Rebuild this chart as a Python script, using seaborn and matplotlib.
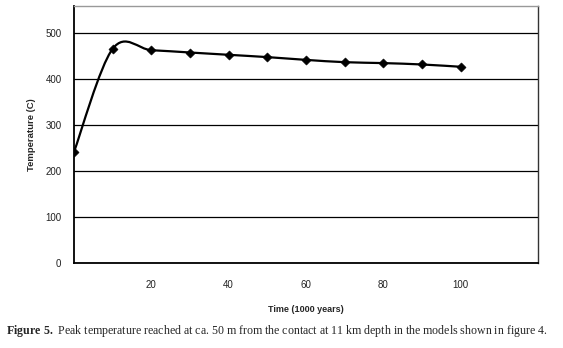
import numpy as np
import matplotlib
matplotlib.use("Agg")
import matplotlib.pyplot as plt
from matplotlib.path import Path
from matplotlib.patches import PathPatch
import seaborn as sns
import pandas as pd

# data
time_kyr = [0, 10, 20, 30, 40, 50, 60, 70, 80, 90, 100]
temp_c = [241, 465, 462, 457, 452, 447, 441, 436, 434, 431, 426]
y_ticks = [0, 100, 200, 300, 400, 500]
x_ticks = [20, 40, 60, 80, 100, 120]
x_labels = ["20", "40", "60", "80", "100", ""]

df = pd.DataFrame({"time": time_kyr, "temp": temp_c})

sns.set_style("white")
plt.rcParams["font.family"] = ["Liberation Sans", "DejaVu Sans"]
plt.rcParams["mathtext.fontset"] = "custom"
plt.rcParams["mathtext.rm"] = "Liberation Serif"
plt.rcParams["mathtext.bf"] = "Liberation Serif:bold"

fig = plt.figure(figsize=(5.63, 3.48), dpi=100)
ax = fig.add_axes([0.1314, 0.2443, 0.8242, 0.7385])

# Excel-style smoothed line: cubic bezier segments through the points
pts = np.column_stack([time_kyr, temp_c]).astype(float)
verts = [pts[0]]
codes = [Path.MOVETO]
n = len(pts)
for i in range(n - 1):
    p_prev = pts[i - 1] if i > 0 else pts[i]
    p_next2 = pts[i + 2] if i + 2 < n else pts[i + 1]
    c1 = pts[i] + (pts[i + 1] - p_prev) / 6
    c2 = pts[i + 1] - (p_next2 - pts[i]) / 6
    verts += [c1, c2, pts[i + 1]]
    codes += [Path.CURVE4] * 3
ax.add_patch(PathPatch(Path(verts, codes), facecolor="none",
                       edgecolor="black", lw=1.6, zorder=3))

sns.scatterplot(data=df, x="time", y="temp", marker="D", s=22,
                color="black", edgecolor="black", ax=ax, zorder=4)

ax.set_xlim(0, 120)
ax.set_ylim(0, 558)
ax.set_yticks(y_ticks)
ax.set_xticks(x_ticks)
ax.set_xticklabels(x_labels)
ax.yaxis.grid(True, color="black", lw=0.9)
ax.set_axisbelow(True)
ax.tick_params(axis="both", direction="out", length=3, width=0.9,
               labelsize=7, color="black", labelcolor="#222222")
ax.tick_params(axis="x", pad=9)
ax.tick_params(axis="y", pad=6)

for side in ["left", "bottom"]:
    ax.spines[side].set_color("black")
    ax.spines[side].set_linewidth(1.3)
ax.spines["right"].set_color("#333333")
ax.spines["right"].set_linewidth(1.0)
ax.spines["top"].set_color("#999999")
ax.spines["top"].set_linewidth(1.0)

ax.set_xlabel("Time (1000 years)", fontsize=6.5, fontweight="bold", labelpad=11)
ax.set_ylabel("Temperature (C)", fontsize=6.8, fontweight="bold", labelpad=7)

fig.text(0.011, 0.025, r"$\bf{Figure\ 5.}$ Peak temperature reached at ca. 50 m from the contact at 11 km depth in the models shown in figure 4.",
         fontsize=8.6, family=["Liberation Serif", "DejaVu Serif"], ha="left", va="bottom")

fig.savefig("out.png", dpi=100)
